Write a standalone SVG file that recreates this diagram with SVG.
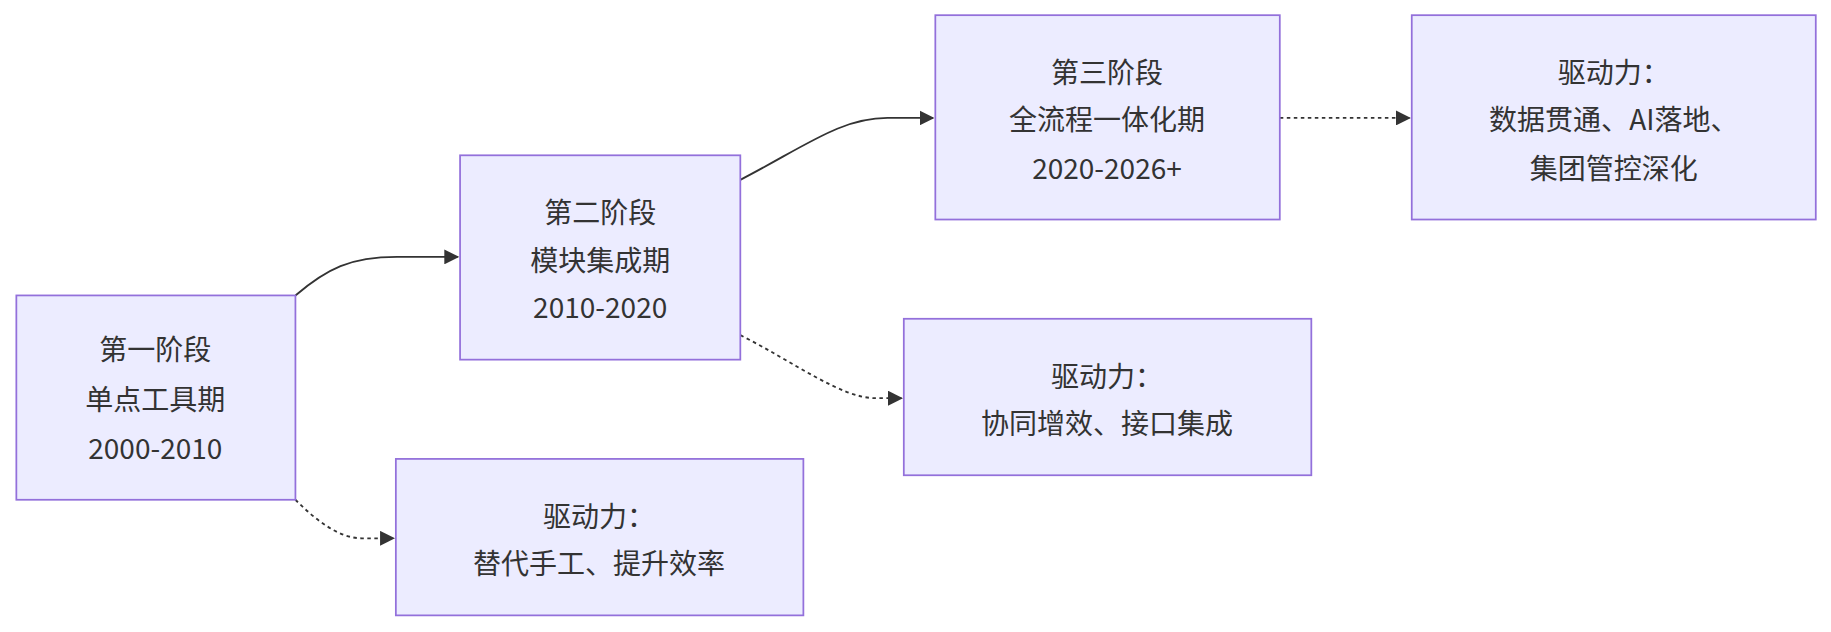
<svg xmlns="http://www.w3.org/2000/svg" width="1831" height="632" viewBox="0 0 1831 632">
<style>
.n rect{fill:#ECECFF;stroke:#9370DB;stroke-width:1.5}
.n text{font-family:"Noto Sans CJK SC","Noto Sans",sans-serif;font-size:24px;fill:#333;text-anchor:middle;dominant-baseline:central}
.e{fill:none;stroke:#333;stroke-width:1.6}
.d{stroke-dasharray:3 3}
</style>
<defs><marker id="a" viewBox="0 0 10 10" refX="9" refY="5" markerWidth="8" markerHeight="8" orient="auto"><path d="M0,0L10,5L0,10z" fill="#333"/></marker></defs>
<rect width="1831" height="632" fill="#fff"/>
<g transform="scale(1.1677)">
<g id="edges">
<path class="e" d="M253,253C280,230 300,220 340,220L392,220" marker-end="url(#a)"/>
<path class="e" d="M634,154C690,125 720,101 760,101L799,101" marker-end="url(#a)"/>
<path class="e d" d="M1096,101L1207,101" marker-end="url(#a)"/>
<path class="e d" d="M634,287C680,310 720,341 750,341L772,341" marker-end="url(#a)"/>
<path class="e d" d="M253,428C270,445 290,461 310,461L337,461" marker-end="url(#a)"/>
</g>
<g id="n1" class="n"><rect x="14" y="253" width="239" height="175"/><text x="133" y="298">第一阶段</text><text x="133" y="340">单点工具期</text><text x="133" y="382">2000-2010</text></g>
<g id="n2" class="n"><rect x="394" y="133" width="240" height="175"/><text x="514" y="180">第二阶段</text><text x="514" y="221">模块集成期</text><text x="514" y="262">2010-2020</text></g>
<g id="n3" class="n"><rect x="801" y="13" width="295" height="175"/><text x="948" y="60">第三阶段</text><text x="948" y="101">全流程一体化期</text><text x="948" y="143">2020-2026+</text></g>
<g id="n4" class="n"><rect x="1209" y="13" width="346" height="175"/><text x="1382" y="60">驱动力：</text><text x="1382" y="101">数据贯通、AI落地、</text><text x="1382" y="143">集团管控深化</text></g>
<g id="n5" class="n"><rect x="774" y="273" width="349" height="134"/><text x="948" y="321">驱动力：</text><text x="948" y="361">协同增效、接口集成</text></g>
<g id="n6" class="n"><rect x="339" y="393" width="349" height="134"/><text x="513" y="441">驱动力：</text><text x="513" y="481">替代手工、提升效率</text></g>
</g>
</svg>
